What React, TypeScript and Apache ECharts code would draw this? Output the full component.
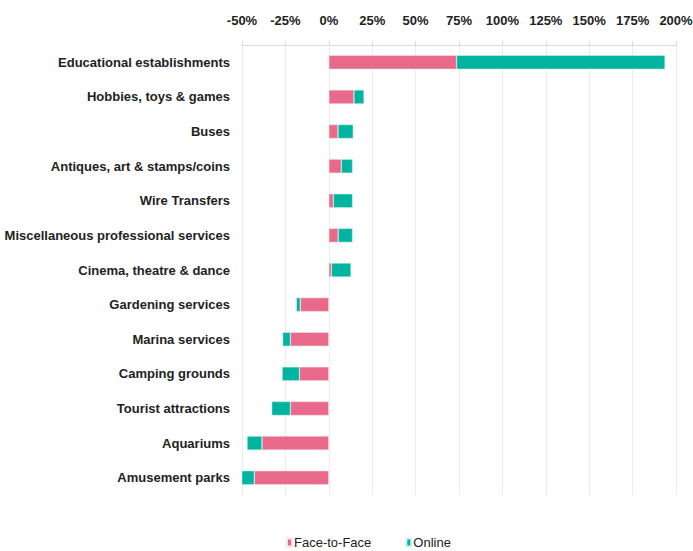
import React, { useEffect, useRef } from "react";
import * as echarts from "echarts";

const categories = [
  "Educational establishments",
  "Hobbies, toys & games",
  "Buses",
  "Antiques, art & stamps/coins",
  "Wire Transfers",
  "Miscellaneous professional services",
  "Cinema, theatre & dance",
  "Gardening services",
  "Marina services",
  "Camping grounds",
  "Tourist attractions",
  "Aquariums",
  "Amusement parks",
];
const faceToFace = [73.6, 14.5, 5.3, 7.2, 2.6, 5.4, 1.5, -16.4, -22.1, -16.9, -22.1, -38.5, -42.9];
const online = [120.1, 5.8, 8.8, 6.5, 11.1, 8.3, 11.3, -2.3, -4.5, -10.0, -10.8, -8.6, -7.5];
const xTicks = { min: -50, max: 200, interval: 25 };

const FONT = "'Liberation Sans Narrow', 'Arial Narrow', 'Liberation Sans', Arial, sans-serif";

export default function App() {
  const ref = useRef<HTMLDivElement>(null);
  useEffect(() => {
    if (!ref.current) return;
    const chart = echarts.init(ref.current, null, { renderer: "svg" });
    chart.setOption({
      animation: false,
      backgroundColor: "#ffffff",
      grid: {
        left: 242,
        right: 17,
        top: 45,
        bottom: 56,
        containLabel: false,
        outerBoundsMode: "none",
      },
      legend: {
        top: 531,
        left: 281,
        itemWidth: 5,
        itemHeight: 8,
        itemGap: 34,
        icon: "rect",
        textStyle: { fontFamily: FONT, fontSize: 13, color: "#222", padding: [0, 0, 0, -3] },
        data: ["Face-to-Face", "Online"],
      },
      xAxis: {
        type: "value",
        position: "top",
        min: xTicks.min,
        max: xTicks.max,
        interval: xTicks.interval,
        axisLine: { show: true, lineStyle: { color: "#d9d9d9" } },
        axisTick: { show: true, length: 4, lineStyle: { color: "#d9d9d9" } },
        splitLine: { show: true, lineStyle: { color: "#ececec" } },
        axisLabel: {
          formatter: (v: number) => `${v}%`,
          fontFamily: FONT,
          fontWeight: "bold",
          fontSize: 13,
          color: "#222",
          margin: 18,
          hideOverlap: false,
        },
      },
      yAxis: {
        type: "category",
        inverse: true,
        data: categories,
        axisLine: { show: false },
        axisTick: { show: false },
        axisLabel: {
          fontFamily: FONT,
          fontWeight: "bold",
          fontSize: 13,
          color: "#222",
          margin: 12,
        },
      },
      series: [
        {
          name: "Face-to-Face",
          type: "bar",
          stack: "total",
          data: faceToFace,
          barWidth: 14,
          itemStyle: { color: "#E9698A", borderColor: "#fbe3e8", borderWidth: 0.5 },
        },
        {
          name: "Online",
          type: "bar",
          stack: "total",
          data: online,
          barWidth: 14,
          itemStyle: { color: "#00B4A0", borderColor: "#d5f3ef", borderWidth: 0.5 },
        },
      ],
    });
    return () => chart.dispose();
  }, []);
  return (
    <div
      ref={ref}
      style={{ position: "absolute", left: 0, top: 0, width: 693, height: 551 }}
    />
  );
}
